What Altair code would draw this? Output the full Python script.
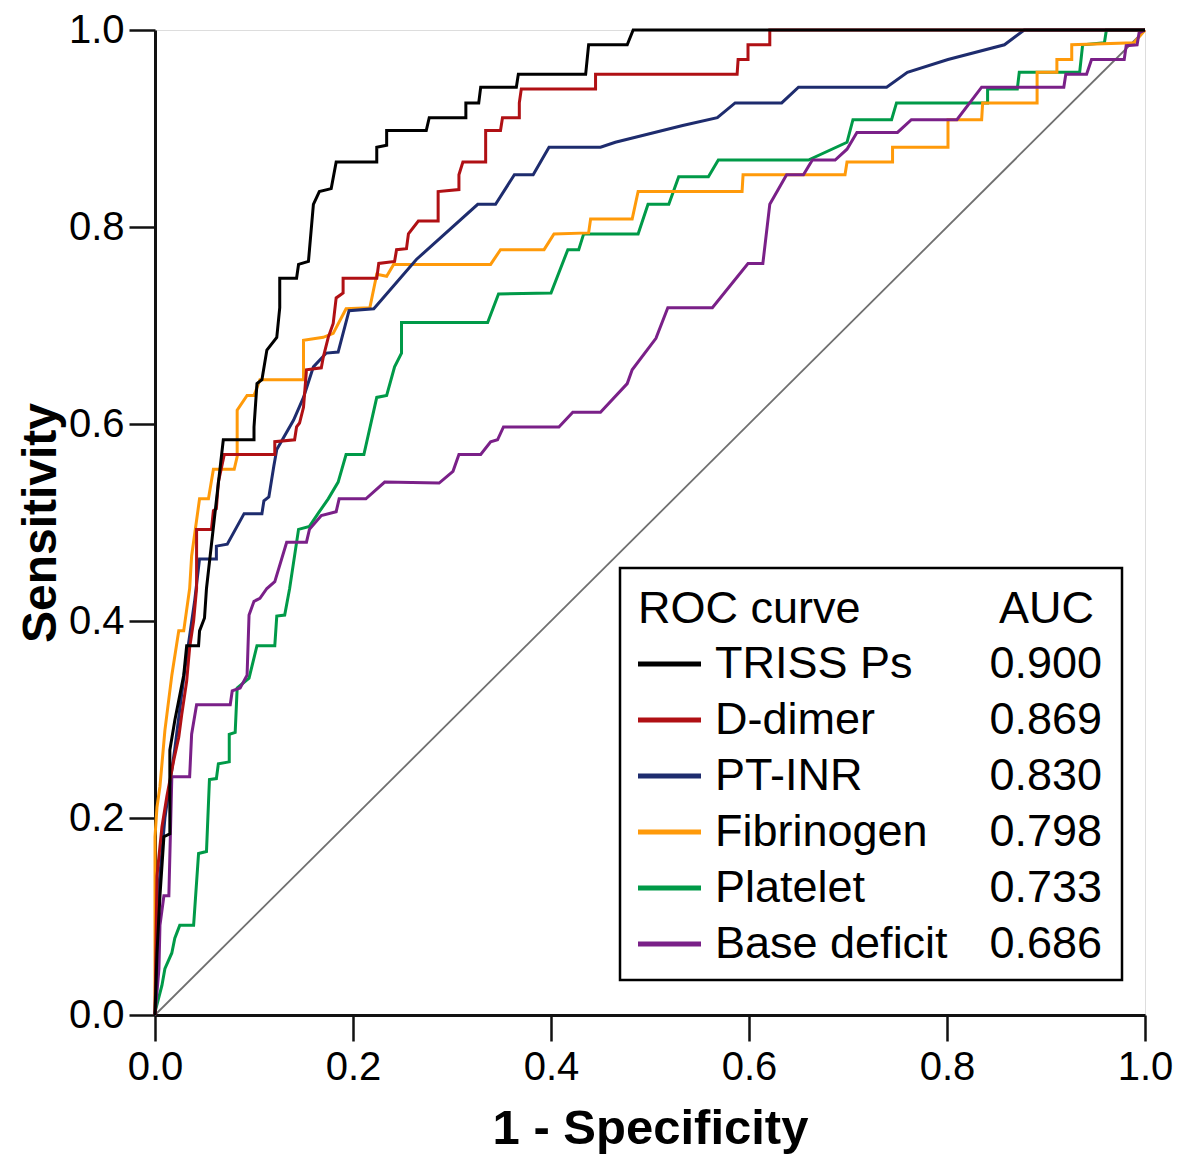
import altair as alt
import pandas as pd

# ---------------- data ----------------
triss_fpr = [0, 0.002, 0.005, 0.009, 0.015, 0.015, 0.020, 0.029, 0.032, 0.044, 0.045, 0.050, 0.052, 0.064, 0.069, 0.100, 0.100, 0.103, 0.108, 0.113, 0.123, 0.126, 0.126, 0.143, 0.145, 0.155, 0.160, 0.166, 0.178, 0.183, 0.224, 0.224, 0.234, 0.234, 0.274, 0.277, 0.314, 0.314, 0.327, 0.329, 0.365, 0.367, 0.435, 0.438, 0.477, 0.483, 1.0]
triss_tpr = [0, 0.063, 0.121, 0.181, 0.184, 0.269, 0.299, 0.345, 0.375, 0.375, 0.390, 0.403, 0.433, 0.540, 0.584, 0.584, 0.597, 0.641, 0.645, 0.675, 0.688, 0.718, 0.748, 0.748, 0.762, 0.765, 0.823, 0.836, 0.839, 0.866, 0.866, 0.881, 0.883, 0.898, 0.898, 0.911, 0.911, 0.926, 0.926, 0.942, 0.942, 0.955, 0.955, 0.985, 0.985, 1.0, 1.0]

dd_fpr = [0, 0.002, 0.007, 0.012, 0.019, 0.024, 0.027, 0.032, 0.035, 0.039, 0.042, 0.042, 0.057, 0.059, 0.062, 0.064, 0.070, 0.121, 0.121, 0.141, 0.143, 0.146, 0.150, 0.153, 0.168, 0.170, 0.175, 0.180, 0.183, 0.190, 0.190, 0.224, 0.226, 0.242, 0.244, 0.254, 0.256, 0.266, 0.286, 0.286, 0.307, 0.307, 0.311, 0.334, 0.334, 0.349, 0.351, 0.368, 0.368, 0.370, 0.445, 0.445, 0.588, 0.589, 0.599, 0.599, 0.621, 0.621, 1.0]
dd_tpr = [0, 0.141, 0.191, 0.222, 0.259, 0.282, 0.305, 0.339, 0.373, 0.400, 0.433, 0.493, 0.493, 0.512, 0.514, 0.541, 0.569, 0.569, 0.582, 0.584, 0.597, 0.601, 0.617, 0.655, 0.657, 0.668, 0.688, 0.702, 0.728, 0.733, 0.748, 0.748, 0.763, 0.765, 0.777, 0.778, 0.793, 0.806, 0.806, 0.836, 0.838, 0.853, 0.866, 0.866, 0.898, 0.898, 0.911, 0.911, 0.926, 0.940, 0.940, 0.955, 0.955, 0.970, 0.970, 0.985, 0.985, 1.0, 1.0]

pt_fpr = [0, 0.003, 0.010, 0.020, 0.030, 0.040, 0.045, 0.062, 0.062, 0.073, 0.090, 0.108, 0.110, 0.115, 0.120, 0.123, 0.140, 0.150, 0.160, 0.173, 0.185, 0.196, 0.221, 0.264, 0.326, 0.344, 0.363, 0.382, 0.398, 0.450, 0.465, 0.533, 0.568, 0.586, 0.633, 0.650, 0.739, 0.760, 0.801, 0.858, 0.878, 1.0]
pt_tpr = [0, 0.120, 0.200, 0.270, 0.350, 0.420, 0.463, 0.463, 0.476, 0.478, 0.509, 0.509, 0.522, 0.526, 0.557, 0.574, 0.604, 0.627, 0.658, 0.672, 0.673, 0.715, 0.717, 0.767, 0.823, 0.823, 0.853, 0.853, 0.881, 0.881, 0.886, 0.903, 0.911, 0.926, 0.926, 0.942, 0.942, 0.957, 0.970, 0.985, 1.0, 1.0]

fib_fpr = [0, 0, 0.002, 0.005, 0.010, 0.017, 0.024, 0.029, 0.035, 0.037, 0.045, 0.054, 0.059, 0.080, 0.083, 0.083, 0.093, 0.100, 0.106, 0.150, 0.150, 0.170, 0.180, 0.193, 0.217, 0.224, 0.234, 0.241, 0.339, 0.349, 0.393, 0.403, 0.438, 0.440, 0.482, 0.488, 0.593, 0.594, 0.697, 0.699, 0.745, 0.745, 0.801, 0.801, 0.835, 0.836, 0.891, 0.891, 0.911, 0.911, 0.926, 0.926, 0.989, 1.0]
fib_tpr = [0, 0.181, 0.211, 0.232, 0.289, 0.345, 0.390, 0.390, 0.433, 0.466, 0.524, 0.524, 0.554, 0.554, 0.567, 0.614, 0.629, 0.629, 0.645, 0.645, 0.685, 0.688, 0.692, 0.717, 0.718, 0.752, 0.750, 0.762, 0.762, 0.777, 0.777, 0.793, 0.794, 0.808, 0.808, 0.836, 0.836, 0.853, 0.853, 0.866, 0.866, 0.881, 0.881, 0.909, 0.909, 0.926, 0.926, 0.957, 0.957, 0.970, 0.970, 0.985, 0.987, 1.0]

plt_fpr = [0, 0, 0.007, 0.010, 0.017, 0.020, 0.025, 0.039, 0.044, 0.052, 0.055, 0.062, 0.064, 0.075, 0.075, 0.081, 0.083, 0.095, 0.103, 0.121, 0.123, 0.131, 0.136, 0.145, 0.156, 0.166, 0.175, 0.185, 0.193, 0.211, 0.224, 0.234, 0.242, 0.249, 0.249, 0.336, 0.347, 0.400, 0.417, 0.428, 0.433, 0.488, 0.498, 0.519, 0.529, 0.559, 0.569, 0.660, 0.699, 0.705, 0.744, 0.749, 0.841, 0.841, 0.871, 0.873, 0.934, 0.937, 0.959, 0.961, 1.0]
plt_tpr = [0, 0.003, 0.030, 0.047, 0.063, 0.078, 0.091, 0.091, 0.164, 0.166, 0.239, 0.240, 0.255, 0.257, 0.285, 0.287, 0.332, 0.342, 0.375, 0.375, 0.405, 0.406, 0.433, 0.493, 0.496, 0.511, 0.524, 0.541, 0.569, 0.569, 0.627, 0.629, 0.658, 0.672, 0.703, 0.703, 0.732, 0.733, 0.777, 0.777, 0.793, 0.793, 0.823, 0.823, 0.851, 0.851, 0.868, 0.868, 0.886, 0.909, 0.909, 0.926, 0.926, 0.940, 0.940, 0.957, 0.957, 0.985, 0.987, 1.0, 1.0]

bd_fpr = [0, 0.004, 0.005, 0.009, 0.014, 0.017, 0.035, 0.037, 0.042, 0.076, 0.078, 0.086, 0.093, 0.095, 0.100, 0.106, 0.113, 0.121, 0.133, 0.153, 0.156, 0.168, 0.183, 0.186, 0.213, 0.232, 0.287, 0.301, 0.307, 0.329, 0.339, 0.346, 0.352, 0.408, 0.422, 0.450, 0.477, 0.482, 0.506, 0.518, 0.563, 0.599, 0.614, 0.621, 0.638, 0.655, 0.664, 0.687, 0.699, 0.709, 0.750, 0.764, 0.810, 0.835, 0.918, 0.920, 0.941, 0.946, 0.979, 0.981, 0.992, 0.994, 1.0]
bd_tpr = [0, 0.047, 0.091, 0.121, 0.121, 0.242, 0.242, 0.285, 0.315, 0.315, 0.329, 0.332, 0.345, 0.406, 0.420, 0.423, 0.433, 0.440, 0.480, 0.480, 0.493, 0.507, 0.511, 0.524, 0.524, 0.541, 0.540, 0.552, 0.569, 0.569, 0.582, 0.584, 0.597, 0.597, 0.612, 0.612, 0.641, 0.655, 0.687, 0.718, 0.718, 0.763, 0.763, 0.823, 0.853, 0.853, 0.868, 0.868, 0.879, 0.896, 0.896, 0.909, 0.909, 0.942, 0.942, 0.955, 0.955, 0.970, 0.970, 0.984, 0.985, 0.997, 1.0]

ref_x = [0.0, 1.0]
ref_y = [0.0, 1.0]

curve_names = ["TRISS Ps", "D-dimer", "PT-INR", "Fibrinogen", "Platelet", "Base deficit"]
curve_auc = ["0.900", "0.869", "0.830", "0.798", "0.733", "0.686"]
curve_colors = ["#000000", "#B01014", "#1E2C6E", "#FF9A0A", "#009A48", "#7A2088"]
curve_data = [(triss_fpr, triss_tpr), (dd_fpr, dd_tpr), (pt_fpr, pt_tpr),
              (fib_fpr, fib_tpr), (plt_fpr, plt_tpr), (bd_fpr, bd_tpr)]
tick_values = [0, 0.2, 0.4, 0.6, 0.8, 1.0]

FONT = "Liberation Sans"


def make_axis(title, title_pad, label_pad, title_fs):
    return alt.Axis(title=title, values=tick_values, format=".1f", grid=False,
                    labelFontSize=40, labelFont=FONT, labelColor="#000",
                    tickColor="#111", tickSize=26, tickWidth=2.5,
                    domainColor="#111", domainWidth=3, labelPadding=label_pad,
                    titleFontSize=title_fs, titleFont=FONT, titleFontWeight="bold",
                    titleColor="#000", titlePadding=title_pad, labelFlush=False)


x_enc = alt.X("fpr:Q", scale=alt.Scale(domain=[0, 1], nice=False, zero=False),
              axis=make_axis("1 - Specificity", 17, 6, 49))
y_enc = alt.Y("tpr:Q", scale=alt.Scale(domain=[0, 1], nice=False, zero=False),
              axis=make_axis("Sensitivity", 3, 5, 48))

ref_df = pd.DataFrame({"fpr": ref_x, "tpr": ref_y})
layers = [alt.Chart(ref_df).mark_line(color="#707070", strokeWidth=1.8).encode(x=x_enc, y=y_enc)]

draw_order = [4, 3, 5, 2, 1, 0]
for i in draw_order:
    fx, ty = curve_data[i]
    df = pd.DataFrame({"fpr": fx, "tpr": ty, "idx": list(range(len(fx)))})
    layers.append(
        alt.Chart(df).mark_line(color=curve_colors[i], strokeWidth=3, strokeJoin="miter")
        .encode(x=x_enc, y=y_enc, order=alt.Order("idx:Q"))
    )

# ---------------- legend box ----------------
one = pd.DataFrame({"k": [0]})
LEG_FS = 45
TOP_SHIFT = -6
layers.append(alt.Chart(one).mark_rect(fill="white", stroke="#000", strokeWidth=2.5).encode(
    x=alt.value(465), x2=alt.value(967), y=alt.value(544 + TOP_SHIFT), y2=alt.value(956 + TOP_SHIFT)))
layers.append(alt.Chart(one).mark_text(align="left", baseline="alphabetic", fontSize=LEG_FS,
                                       font=FONT, color="#000").encode(
    x=alt.value(483), y=alt.value(599 + TOP_SHIFT), text=alt.value("ROC curve")))
layers.append(alt.Chart(one).mark_text(align="right", baseline="alphabetic", fontSize=LEG_FS,
                                       font=FONT, color="#000").encode(
    x=alt.value(939), y=alt.value(599 + TOP_SHIFT), text=alt.value("AUC")))
for i, name in enumerate(curve_names):
    base = 654 + 56 * i + TOP_SHIFT
    layers.append(alt.Chart(one).mark_rule(color=curve_colors[i], strokeWidth=5).encode(
        x=alt.value(483), x2=alt.value(546), y=alt.value(base - 14)))
    layers.append(alt.Chart(one).mark_text(align="left", baseline="alphabetic", fontSize=LEG_FS,
                                           font=FONT, color="#000").encode(
        x=alt.value(560), y=alt.value(base), text=alt.value(name)))
    layers.append(alt.Chart(one).mark_text(align="right", baseline="alphabetic", fontSize=LEG_FS,
                                           font=FONT, color="#000").encode(
        x=alt.value(947), y=alt.value(base), text=alt.value(curve_auc[i])))

chart = alt.layer(*layers).properties(
    width=990, height=985,
    autosize=alt.AutoSizeParams(type="none"),
    padding={"left": 147, "top": 22, "right": 28, "bottom": 141},
).configure_view(stroke="#8a8a8a", strokeWidth=2.5).configure(background="white")

chart.save("out.html", embed_options={"renderer": "svg", "actions": False})
